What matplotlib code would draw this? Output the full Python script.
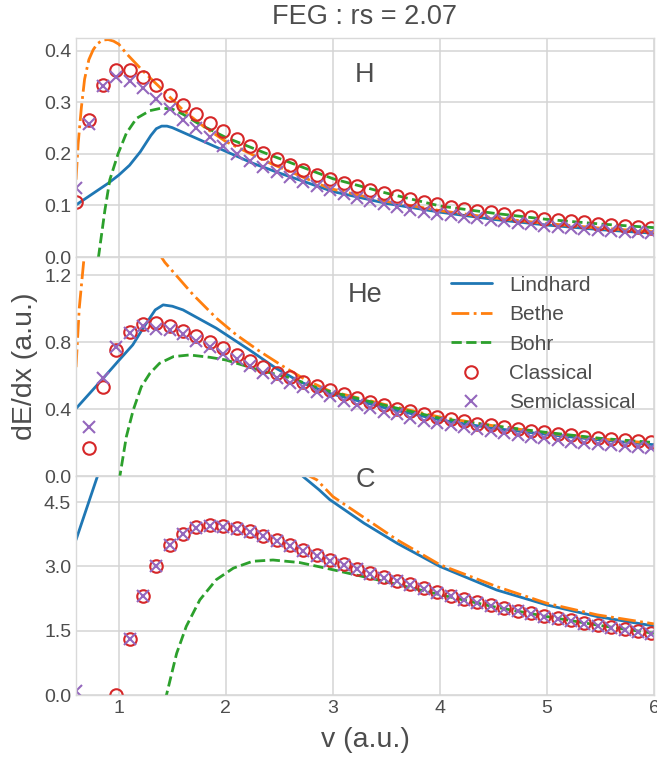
import numpy as np
import matplotlib
matplotlib.use("Agg")
import matplotlib.pyplot as plt

# velocity grid of the classical / semiclassical points
v_pts = np.linspace(0.6, 5.975, 44)

# ---- H ----
lind_H_v = [0.6, 0.8, 0.9, 1.0, 1.1, 1.2, 1.3, 1.35, 1.4, 1.45, 1.5, 1.75, 2.0, 2.25, 2.5, 3.0, 3.5, 4.0, 4.5,
            5.0, 5.5, 6.0]
lind_H = [0.101, 0.129, 0.143, 0.159, 0.178, 0.204, 0.236, 0.249, 0.254, 0.254, 0.251, 0.228, 0.205, 0.182, 0.163,
          0.127, 0.104, 0.087, 0.073, 0.062, 0.053, 0.046]
bethe_H_v = [0.6, 0.62, 0.65, 0.68, 0.72, 0.76, 0.8, 0.85, 0.9, 0.95, 1.0, 1.07, 1.23, 1.41, 1.6, 1.8, 2.0, 2.38,
             2.97, 3.5, 4.0, 4.5, 5.0, 5.5, 6.0]
bethe_H = [0.15, 0.22, 0.29, 0.345, 0.383, 0.402, 0.414, 0.421, 0.422, 0.419, 0.413, 0.395, 0.36, 0.324, 0.285,
           0.252, 0.224, 0.185, 0.133, 0.108, 0.090, 0.076, 0.065, 0.056, 0.049]
bohr_H_v = [0.6, 0.7, 0.78, 0.81, 0.87, 0.916, 0.994, 1.07, 1.165, 1.29, 1.4, 1.5, 1.6, 1.75, 2.0, 2.4, 3.0, 3.5,
            4.0, 4.5, 5.0, 5.5, 6.0]
bohr_H = [-0.6, -0.25, -0.05, 0.0, 0.091, 0.150, 0.201, 0.240, 0.269, 0.284, 0.289, 0.287, 0.277, 0.258, 0.232,
          0.199, 0.152, 0.124, 0.099, 0.085, 0.073, 0.064, 0.057]
clas_H = [0.107, 0.265, 0.334, 0.362, 0.362, 0.350, 0.334, 0.315, 0.295, 0.278, 0.260, 0.245, 0.229, 0.215, 0.201,
          0.190, 0.179, 0.169, 0.160, 0.151, 0.144, 0.137, 0.130, 0.124, 0.118, 0.112, 0.107, 0.102, 0.098, 0.094,
          0.090, 0.087, 0.084, 0.080, 0.077, 0.074, 0.072, 0.069, 0.067, 0.064, 0.062, 0.060, 0.059, 0.057]
semi_H = [0.134, 0.258, 0.332, 0.349, 0.342, 0.328, 0.306, 0.287, 0.266, 0.250, 0.232, 0.215, 0.199, 0.187, 0.175,
          0.164, 0.155, 0.146, 0.138, 0.130, 0.122, 0.115, 0.108, 0.102, 0.097, 0.092, 0.087, 0.084, 0.081, 0.078,
          0.075, 0.072, 0.069, 0.066, 0.064, 0.061, 0.059, 0.057, 0.055, 0.053, 0.051, 0.049, 0.048, 0.046]

# ---- He ----
lind_He_v = [0.6, 0.853, 0.99, 1.13, 1.227, 1.34, 1.414, 1.5, 1.6, 1.91, 2.22, 2.47, 2.69, 2.97, 3.5, 4.0, 4.5,
             5.0, 5.5, 6.0]
lind_He = [0.403, 0.583, 0.683, 0.783, 0.883, 0.992, 1.022, 1.014, 0.992, 0.883, 0.753, 0.643, 0.563, 0.493, 0.405,
           0.335, 0.285, 0.248, 0.215, 0.187]
bethe_He_v = [0.6, 0.63, 0.67, 0.7, 0.8, 1.0, 1.2, 1.43, 1.49, 1.695, 1.913, 2.1, 2.32, 2.54, 2.75, 2.97, 3.5,
              4.0, 4.5, 5.0, 5.5, 6.0]
bethe_He = [0.65, 1.0, 1.27, 1.45, 1.65, 1.70, 1.5, 1.276, 1.232, 1.082, 0.942, 0.842, 0.743, 0.653, 0.573, 0.508,
            0.425, 0.352, 0.30, 0.257, 0.222, 0.195]
bohr_He_v = [0.6, 0.8, 0.95, 1.01, 1.07, 1.134, 1.21, 1.29, 1.38, 1.51, 1.66, 1.85, 2.0, 2.31, 2.62, 2.87, 3.0,
             3.5, 4.0, 4.5, 5.0, 5.5, 6.0]
bohr_He = [-1.5, -0.6, -0.12, 0.0, 0.234, 0.393, 0.533, 0.613, 0.673, 0.713, 0.723, 0.709, 0.693, 0.633, 0.583,
           0.523, 0.50, 0.42, 0.345, 0.30, 0.26, 0.225, 0.20]
clas_He = [-0.3, 0.170, 0.533, 0.753, 0.862, 0.908, 0.916, 0.898, 0.868, 0.837, 0.799, 0.763, 0.723, 0.687, 0.653,
           0.617, 0.589, 0.559, 0.537, 0.513, 0.487, 0.463, 0.443, 0.423, 0.403, 0.387, 0.369, 0.353, 0.339, 0.327,
           0.313, 0.303, 0.290, 0.280, 0.270, 0.260, 0.250, 0.242, 0.234, 0.227, 0.220, 0.214, 0.208, 0.203]
semi_He = [-0.2, 0.293, 0.583, 0.769, 0.856, 0.898, 0.876, 0.872, 0.848, 0.808, 0.769, 0.729, 0.697, 0.657, 0.617,
           0.583, 0.553, 0.529, 0.503, 0.480, 0.450, 0.425, 0.405, 0.385, 0.368, 0.348, 0.331, 0.317, 0.303, 0.291,
           0.278, 0.266, 0.255, 0.245, 0.235, 0.225, 0.215, 0.206, 0.198, 0.190, 0.183, 0.177, 0.171, 0.165]

# ---- C ----
lind_C_v = [0.6, 0.82, 0.9, 1.4, 2.5, 2.72, 2.87, 2.97, 3.29, 3.6, 4.0, 4.53, 5.0, 5.47, 6.0]
lind_C = [3.62, 5.25, 5.8, 9.1, 6.0, 5.1, 4.79, 4.56, 4.01, 3.54, 3.0, 2.45, 2.10, 1.83, 1.61]
bethe_C_v = [0.6, 1.0, 2.0, 2.5, 2.78, 2.85, 3.0, 3.6, 4.0, 4.53, 5.0, 5.47, 6.0]
bethe_C = [5.9, 15.0, 7.8, 5.8, 5.11, 5.02, 4.63, 3.62, 3.04, 2.53, 2.14, 1.87, 1.66]
bohr_C_v = [0.6, 1.0, 1.3, 1.445, 1.54, 1.63, 1.757, 1.91, 2.07, 2.25, 2.44, 2.69, 2.97, 3.5, 4.0, 4.5, 5.0, 5.5, 6.0]
bohr_C = [-15, -6, -1.5, 0.0, 0.97, 1.60, 2.22, 2.69, 2.96, 3.12, 3.15, 3.09, 2.94, 2.64, 2.34, 2.06, 1.83, 1.62, 1.44]
clas_C = [-1.5, -1.0, -0.5, 0.0, 1.30, 2.32, 3.02, 3.50, 3.76, 3.91, 3.96, 3.95, 3.89, 3.82, 3.72, 3.62, 3.50, 3.39,
          3.27, 3.15, 3.05, 2.95, 2.85, 2.76, 2.67, 2.58, 2.49, 2.40, 2.32, 2.24, 2.17, 2.10, 2.03, 1.97, 1.91, 1.85,
          1.79, 1.74, 1.68, 1.63, 1.58, 1.54, 1.49, 1.45]
semi_C = [0.1, -1.0, -0.5, -0.2, 1.31, 2.31, 3.01, 3.49, 3.75, 3.90, 3.94, 3.93, 3.87, 3.80, 3.70, 3.60, 3.48, 3.37,
          3.25, 3.13, 3.03, 2.93, 2.83, 2.74, 2.65, 2.56, 2.47, 2.38, 2.30, 2.22, 2.15, 2.08, 2.01, 1.95, 1.89, 1.83,
          1.77, 1.72, 1.66, 1.61, 1.56, 1.52, 1.47, 1.43]

ions = ["H", "He", "C"]
ylims = [0.425, 1.308, 5.11]
yticks = [[0.0, 0.1, 0.2, 0.3, 0.4], [0.0, 0.4, 0.8, 1.2], [0.0, 1.5, 3.0, 4.5]]
label_y = [0.83, 0.826, 0.98]

plt.style.use("seaborn-v0_8-whitegrid")
plt.rcParams["font.family"] = ["Liberation Sans", "DejaVu Sans"]
plt.rcParams["text.color"] = "0.3"
plt.rcParams["axes.labelcolor"] = "0.3"
plt.rcParams["xtick.color"] = "0.3"
plt.rcParams["ytick.color"] = "0.3"
plt.rcParams["grid.color"] = "0.83"
plt.rcParams["grid.linewidth"] = 1.1

fig, axs = plt.subplots(3, 1, sharex=True, figsize=(6.57, 7.57), dpi=100)
fig.subplots_adjust(left=0.1157, right=0.9954, top=0.9498, bottom=0.0819, hspace=0)

data = [
    (lind_H_v, lind_H, bethe_H_v, bethe_H, bohr_H_v, bohr_H, clas_H, semi_H),
    (lind_He_v, lind_He, bethe_He_v, bethe_He, bohr_He_v, bohr_He, clas_He, semi_He),
    (lind_C_v, lind_C, bethe_C_v, bethe_C, bohr_C_v, bohr_C, clas_C, semi_C),
]

for i, ax in enumerate(axs):
    lv, l, bv, b, hv, h, c, s = data[i]
    ax.plot(lv, l, "-", color="#1f77b4", lw=2, label="Lindhard")
    ax.plot(bv, b, "-.", color="#ff7f0e", lw=2, label="Bethe")
    ax.plot(hv, h, "--", color="#2ca02c", lw=2, label="Bohr")
    ax.plot(v_pts, c, "o", mfc="none", mec="#d62728", ms=9, mew=1.5, label="Classical")
    ax.plot(v_pts, s, "x", color="#9467bd", ms=9, mew=1.5, label="Semiclassical")
    ax.set_ylim(0, ylims[i])
    ax.set_yticks(yticks[i])
    ax.set_xlim(0.6, 6.0)
    ax.tick_params(labelsize=14)
    ax.text(0.5, label_y[i], ions[i], transform=ax.transAxes, ha="center", va="center", fontsize=19.5)
    for sp in ax.spines.values():
        sp.set_color("0.85")

axs[0].set_title("FEG : rs = 2.07", fontsize=19.5, pad=10)
axs[1].set_ylabel("dE/dx (a.u.)", fontsize=20.5)
axs[2].set_xlabel("v (a.u.)", fontsize=20.5, labelpad=7)
axs[2].set_xticks([1, 2, 3, 4, 5, 6])
axs[1].legend(loc="upper right", fontsize=15, frameon=False)

fig.savefig("out.png", dpi=100)
